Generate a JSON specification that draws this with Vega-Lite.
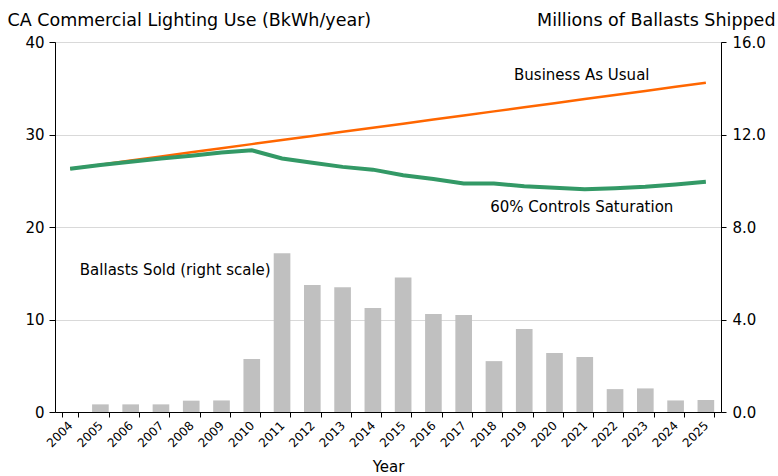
{
  "$schema": "https://vega.github.io/schema/vega-lite/v6.json",
  "autosize": {"type": "none"},
  "width": 666,
  "height": 370,
  "padding": {"left": 55, "top": 42, "right": 57, "bottom": 64},
  "background": "white",
  "config": {
    "font": "DejaVu Sans",
    "view": {"stroke": "#808080", "strokeWidth": 1}
  },
  "datasets": {
    "main": [
      {"year": "2004", "bau": 26.3, "ctrl": 26.3, "ballasts": null},
      {"year": "2005", "bau": 26.74, "ctrl": 26.7, "ballasts": 0.33},
      {"year": "2006", "bau": 27.19, "ctrl": 27.05, "ballasts": 0.33},
      {"year": "2007", "bau": 27.63, "ctrl": 27.4, "ballasts": 0.33},
      {"year": "2008", "bau": 28.07, "ctrl": 27.7, "ballasts": 0.49},
      {"year": "2009", "bau": 28.51, "ctrl": 28.05, "ballasts": 0.5},
      {"year": "2010", "bau": 28.96, "ctrl": 28.3, "ballasts": 2.29},
      {"year": "2011", "bau": 29.4, "ctrl": 27.4, "ballasts": 6.86},
      {"year": "2012", "bau": 29.84, "ctrl": 26.95, "ballasts": 5.49},
      {"year": "2013", "bau": 30.29, "ctrl": 26.5, "ballasts": 5.39},
      {"year": "2014", "bau": 30.73, "ctrl": 26.2, "ballasts": 4.5},
      {"year": "2015", "bau": 31.17, "ctrl": 25.6, "ballasts": 5.82},
      {"year": "2016", "bau": 31.61, "ctrl": 25.2, "ballasts": 4.24},
      {"year": "2017", "bau": 32.06, "ctrl": 24.7, "ballasts": 4.19},
      {"year": "2018", "bau": 32.5, "ctrl": 24.7, "ballasts": 2.2},
      {"year": "2019", "bau": 32.94, "ctrl": 24.4, "ballasts": 3.59},
      {"year": "2020", "bau": 33.39, "ctrl": 24.25, "ballasts": 2.55},
      {"year": "2021", "bau": 33.83, "ctrl": 24.07, "ballasts": 2.38},
      {"year": "2022", "bau": 34.27, "ctrl": 24.2, "ballasts": 0.99},
      {"year": "2023", "bau": 34.71, "ctrl": 24.36, "ballasts": 1.02},
      {"year": "2024", "bau": 35.16, "ctrl": 24.6, "ballasts": 0.5},
      {"year": "2025", "bau": 35.6, "ctrl": 24.9, "ballasts": 0.52}
    ],
    "notes": [
      {"year": "2021", "value": 36.4, "label": "Business As Usual", "shift": 0},
      {"year": "2021", "value": 22.2, "label": "60% Controls Saturation", "shift": 0},
      {"year": "2008", "value": 15.4, "label": "Ballasts Sold (right scale)", "shift": -16}
    ]
  },
  "data": {"name": "main"},
  "encoding": {
    "x": {
      "field": "year",
      "type": "ordinal",
      "scale": {"paddingInner": 0.45, "paddingOuter": 0.225},
      "axis": {
        "title": "Year",
        "titleFontSize": 15,
        "titleFontWeight": "normal",
        "titleColor": "black",
        "titlePadding": 11,
        "labelAngle": -45,
        "labelAlign": "right",
        "labelBaseline": "middle",
        "labelFontSize": 12,
        "labelColor": "black",
        "labelPadding": 6,
        "tickBand": "extent",
        "tickColor": "black",
        "tickSize": 5,
        "domainColor": "black",
        "grid": false
      }
    }
  },
  "layer": [
    {
      "mark": {"type": "bar", "color": "#c0c0c0"},
      "encoding": {
        "y": {
          "field": "ballasts",
          "type": "quantitative",
          "scale": {"domain": [0, 16], "nice": false},
          "axis": {
            "orient": "right",
            "values": [0, 4, 8, 12, 16],
            "format": ".1f",
            "grid": false,
            "title": "Millions of Ballasts Shipped",
            "titleAngle": 0,
            "titleAlign": "right",
            "titleBaseline": "middle",
            "titleX": 54,
            "titleY": -22,
            "titleFontSize": 17.5,
            "titleFontWeight": "normal",
            "titleColor": "black",
            "labelFontSize": 15,
            "labelColor": "black",
            "labelPadding": 6,
            "tickSize": 5,
            "tickColor": "black",
            "domainColor": "black"
          }
        }
      }
    },
    {
      "layer": [
        {
          "mark": {"type": "line", "color": "#ff6600", "strokeWidth": 2.5},
          "encoding": {
            "y": {
              "field": "bau",
              "type": "quantitative",
              "scale": {"domain": [0, 40], "nice": false},
              "axis": {
                "orient": "left",
                "values": [0, 10, 20, 30, 40],
                "grid": true,
                "gridColor": "#d9d9d9",
                "title": "CA Commercial Lighting Use (BkWh/year)",
                "titleAngle": 0,
                "titleAlign": "left",
                "titleBaseline": "middle",
                "titleX": -48,
                "titleY": -22,
                "titleFontSize": 17.5,
                "titleFontWeight": "normal",
                "titleColor": "black",
                "labelFontSize": 15,
                "labelColor": "black",
                "labelPadding": 5,
                "tickSize": 6,
                "tickColor": "black",
                "domainColor": "black"
              }
            }
          }
        },
        {
          "mark": {"type": "line", "color": "#339966", "strokeWidth": 4},
          "encoding": {
            "y": {"field": "ctrl", "type": "quantitative"}
          }
        },
        {
          "data": {"name": "notes"},
          "transform": [{"filter": "datum.shift == 0"}],
          "mark": {"type": "text", "fontSize": 15, "color": "black", "align": "center", "baseline": "middle", "dx": -3},
          "encoding": {
            "y": {"field": "value", "type": "quantitative"},
            "text": {"field": "label"}
          }
        },
        {
          "data": {"name": "notes"},
          "transform": [{"filter": "datum.shift != 0"}],
          "mark": {"type": "text", "fontSize": 15, "color": "black", "align": "center", "baseline": "middle", "dx": -16},
          "encoding": {
            "y": {"field": "value", "type": "quantitative"},
            "text": {"field": "label"}
          }
        }
      ]
    }
  ],
  "resolve": {"scale": {"y": "independent"}}
}
